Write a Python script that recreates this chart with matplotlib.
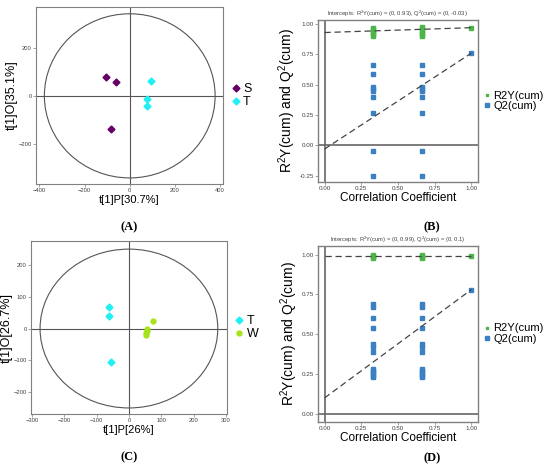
import numpy as np
import matplotlib
matplotlib.use('Agg')
import matplotlib.pyplot as plt
from matplotlib.patches import Ellipse

plt.rcParams['font.family'] = ['Liberation Sans', 'DejaVu Sans']
plt.rcParams['mathtext.fontset'] = 'custom'
plt.rcParams['mathtext.rm'] = 'Liberation Sans'
plt.rcParams['mathtext.it'] = 'Liberation Sans:italic'

# ---- panel A : OPLS-DA scores, S vs T
scoreA_S_x = [-106, -61, -83]
scoreA_S_y = [80, 58, -137]
scoreA_T_x = [94, 75, 75]
scoreA_T_y = [60, -14, -44]
ellipseA = (378, 342)

# ---- panel C : OPLS-DA scores, T vs W
scoreC_T_x = [-61, -61, -56]
scoreC_T_y = [68, 40, -105]
scoreC_W_x = [74, 56, 55, 54, 53]
scoreC_W_y = [24, -1, -7, -13, -19]
ellipseC = (275, 249)

# ---- panel B : permutation test
permB_r2y_x = [1/3] * 6 + [2/3] * 6 + [1.0]
permB_r2y = [0.97, 0.96, 0.945, 0.93, 0.915, 0.90,
             0.975, 0.96, 0.945, 0.93, 0.915, 0.90, 0.97]
permB_q2_x = [1/3] * 9 + [2/3] * 9 + [1.0]
permB_q2 = [0.66, 0.59, 0.48, 0.465, 0.45, 0.40, 0.27, -0.045, -0.25,
            0.66, 0.59, 0.48, 0.465, 0.45, 0.40, 0.27, -0.045, -0.25, 0.76]
interceptB = (0.93, -0.03)

# ---- panel D : permutation test
permD_r2y_x = [1/3] * 4 + [2/3] * 4 + [1.0]
permD_r2y = [1.0, 0.99, 0.985, 0.98, 1.0, 0.99, 0.985, 0.98, 0.99]
q2_d = [0.69, 0.67, 0.60, 0.54, 0.44, 0.42, 0.39, 0.28, 0.27, 0.26, 0.25, 0.24, 0.23]
permD_q2_x = [1/3] * len(q2_d) + [2/3] * len(q2_d) + [1.0]
permD_q2 = q2_d + q2_d + [0.78]
interceptD = (0.99, 0.10)

purple = '#660066'
cyan = '#1ff0f5'
lime = '#a6e31c'
green = '#4cb648'
blue = '#3a80c2'
gray = '#808080'

fig = plt.figure(figsize=(5.5, 4.71), dpi=100)


def score_plot(rect, xlim, ylim, xticks, yticks, ell, groups, xlabel, ylabel):
    ax = fig.add_axes(rect)
    ax.add_patch(Ellipse((0, 0), 2 * ell[0], 2 * ell[1], fill=False,
                         edgecolor='#555555', lw=0.8))
    ax.axhline(0, color='#555555', lw=0.8)
    ax.axvline(0, color='#555555', lw=0.8)
    for xs, ys, col, mk, lab in groups:
        ax.plot(xs, ys, mk, color=col, ms=3.5, ls='none', label=lab)
    ax.set_xlim(*xlim)
    ax.set_ylim(*ylim)
    ax.set_xticks(xticks)
    ax.set_yticks(yticks)
    ax.tick_params(labelsize=4.2, length=2, width=0.5, color=gray,
                   labelcolor='#444444', pad=1)
    for s in ax.spines.values():
        s.set_color(gray)
        s.set_linewidth(0.8)
    ax.set_xlabel(xlabel, fontsize=8, labelpad=1)
    ax.set_ylabel(ylabel, fontsize=9, labelpad=0.5)
    ax.legend(loc='center left', bbox_to_anchor=(1.0, 0.5), frameon=False,
              fontsize=9, handlelength=0.6, handletextpad=0.3,
              labelspacing=0.05, borderaxespad=0.3)
    return ax


def perm_plot(rect, ylim, yticks, r2x, r2, q2x, q2, icpt):
    ax = fig.add_axes(rect)
    ax.axhline(0, color='#666666', lw=1.2)
    ax.axvline(0, color='#666666', lw=1.2)
    ax.plot(r2x, r2, 's', color=green, ms=2.2, ls='none', label='R2Y(cum)')
    ax.plot(q2x, q2, 's', color=blue, ms=2.6, ls='none', label='Q2(cum)')
    ax.plot([0, 1], [icpt[0], r2[-1]], '--', color='#444444', lw=0.9, dashes=(5, 3))
    ax.plot([0, 1], [icpt[1], q2[-1]], '--', color='#444444', lw=0.9, dashes=(5, 3))
    ax.set_xlim(-0.045, 1.045)
    ax.set_ylim(*ylim)
    ax.set_xticks([0, 0.25, 0.5, 0.75, 1.0])
    ax.set_xticklabels(['0.00', '0.25', '0.50', '0.75', '1.00'])
    ax.set_yticks(yticks)
    ax.set_yticklabels(['%.2f' % v for v in yticks])
    ax.tick_params(labelsize=4.5, length=2, width=0.5, color=gray,
                   labelcolor='#444444', pad=1)
    for s in ax.spines.values():
        s.set_color(gray)
        s.set_linewidth(1.0)
    ax.set_title('Intercepts: R$^2$Y(cum) = (0, %g), Q$^2$(cum) = (0, %g)' % icpt,
                 fontsize=4.2, color='#444444', pad=3)
    ax.set_xlabel('Correlation Coefficient', fontsize=8.5, labelpad=1)
    ax.set_ylabel('R$^2$Y(cum) and Q$^2$(cum)', fontsize=10, labelpad=1)
    ax.legend(loc='center left', bbox_to_anchor=(1.0, 0.5), frameon=False,
              fontsize=8, handlelength=0.5, handletextpad=0.3,
              labelspacing=0.05, borderaxespad=0.2, markerscale=0.9)
    return ax


score_plot([0.0655, 0.609, 0.34, 0.376], (-415, 413), (-368, 370),
           [-400, -200, 0, 200, 400], [-200, 0, 200], ellipseA,
           [(scoreA_S_x, scoreA_S_y, purple, 'D', 'S'),
            (scoreA_T_x, scoreA_T_y, cyan, 'D', 'T')],
           't[1]P[30.7%]', 't[1]O[35.1%]')

score_plot([0.0564, 0.121, 0.356, 0.367], (-303, 303), (-268, 274),
           [-300, -200, -100, 0, 100, 200, 300], [-200, -100, 0, 100, 200], ellipseC,
           [(scoreC_T_x, scoreC_T_y, cyan, 'D', 'T'),
            (scoreC_W_x, scoreC_W_y, lime, 'o', 'W')],
           't[1]P[26%]', 't[1]O[26.7%]')

perm_plot([0.578, 0.614, 0.291, 0.344], (-0.30, 1.035),
          [-0.25, 0, 0.25, 0.5, 0.75, 1.0],
          permB_r2y_x, permB_r2y, permB_q2_x, permB_q2, interceptB)

perm_plot([0.578, 0.105, 0.291, 0.373], (-0.048, 1.055),
          [0, 0.25, 0.5, 0.75, 1.0],
          permD_r2y_x, permD_r2y, permD_q2_x, permD_q2, interceptD)

for lab, x, y in [('(A)', 129, 227), ('(B)', 432, 227), ('(C)', 129, 457), ('(D)', 432, 458)]:
    fig.text(x / 550, 1 - y / 471, lab, ha='center', va='center', fontsize=9,
             fontweight='bold', family='Liberation Serif')

fig.savefig('out.png', dpi=100)
